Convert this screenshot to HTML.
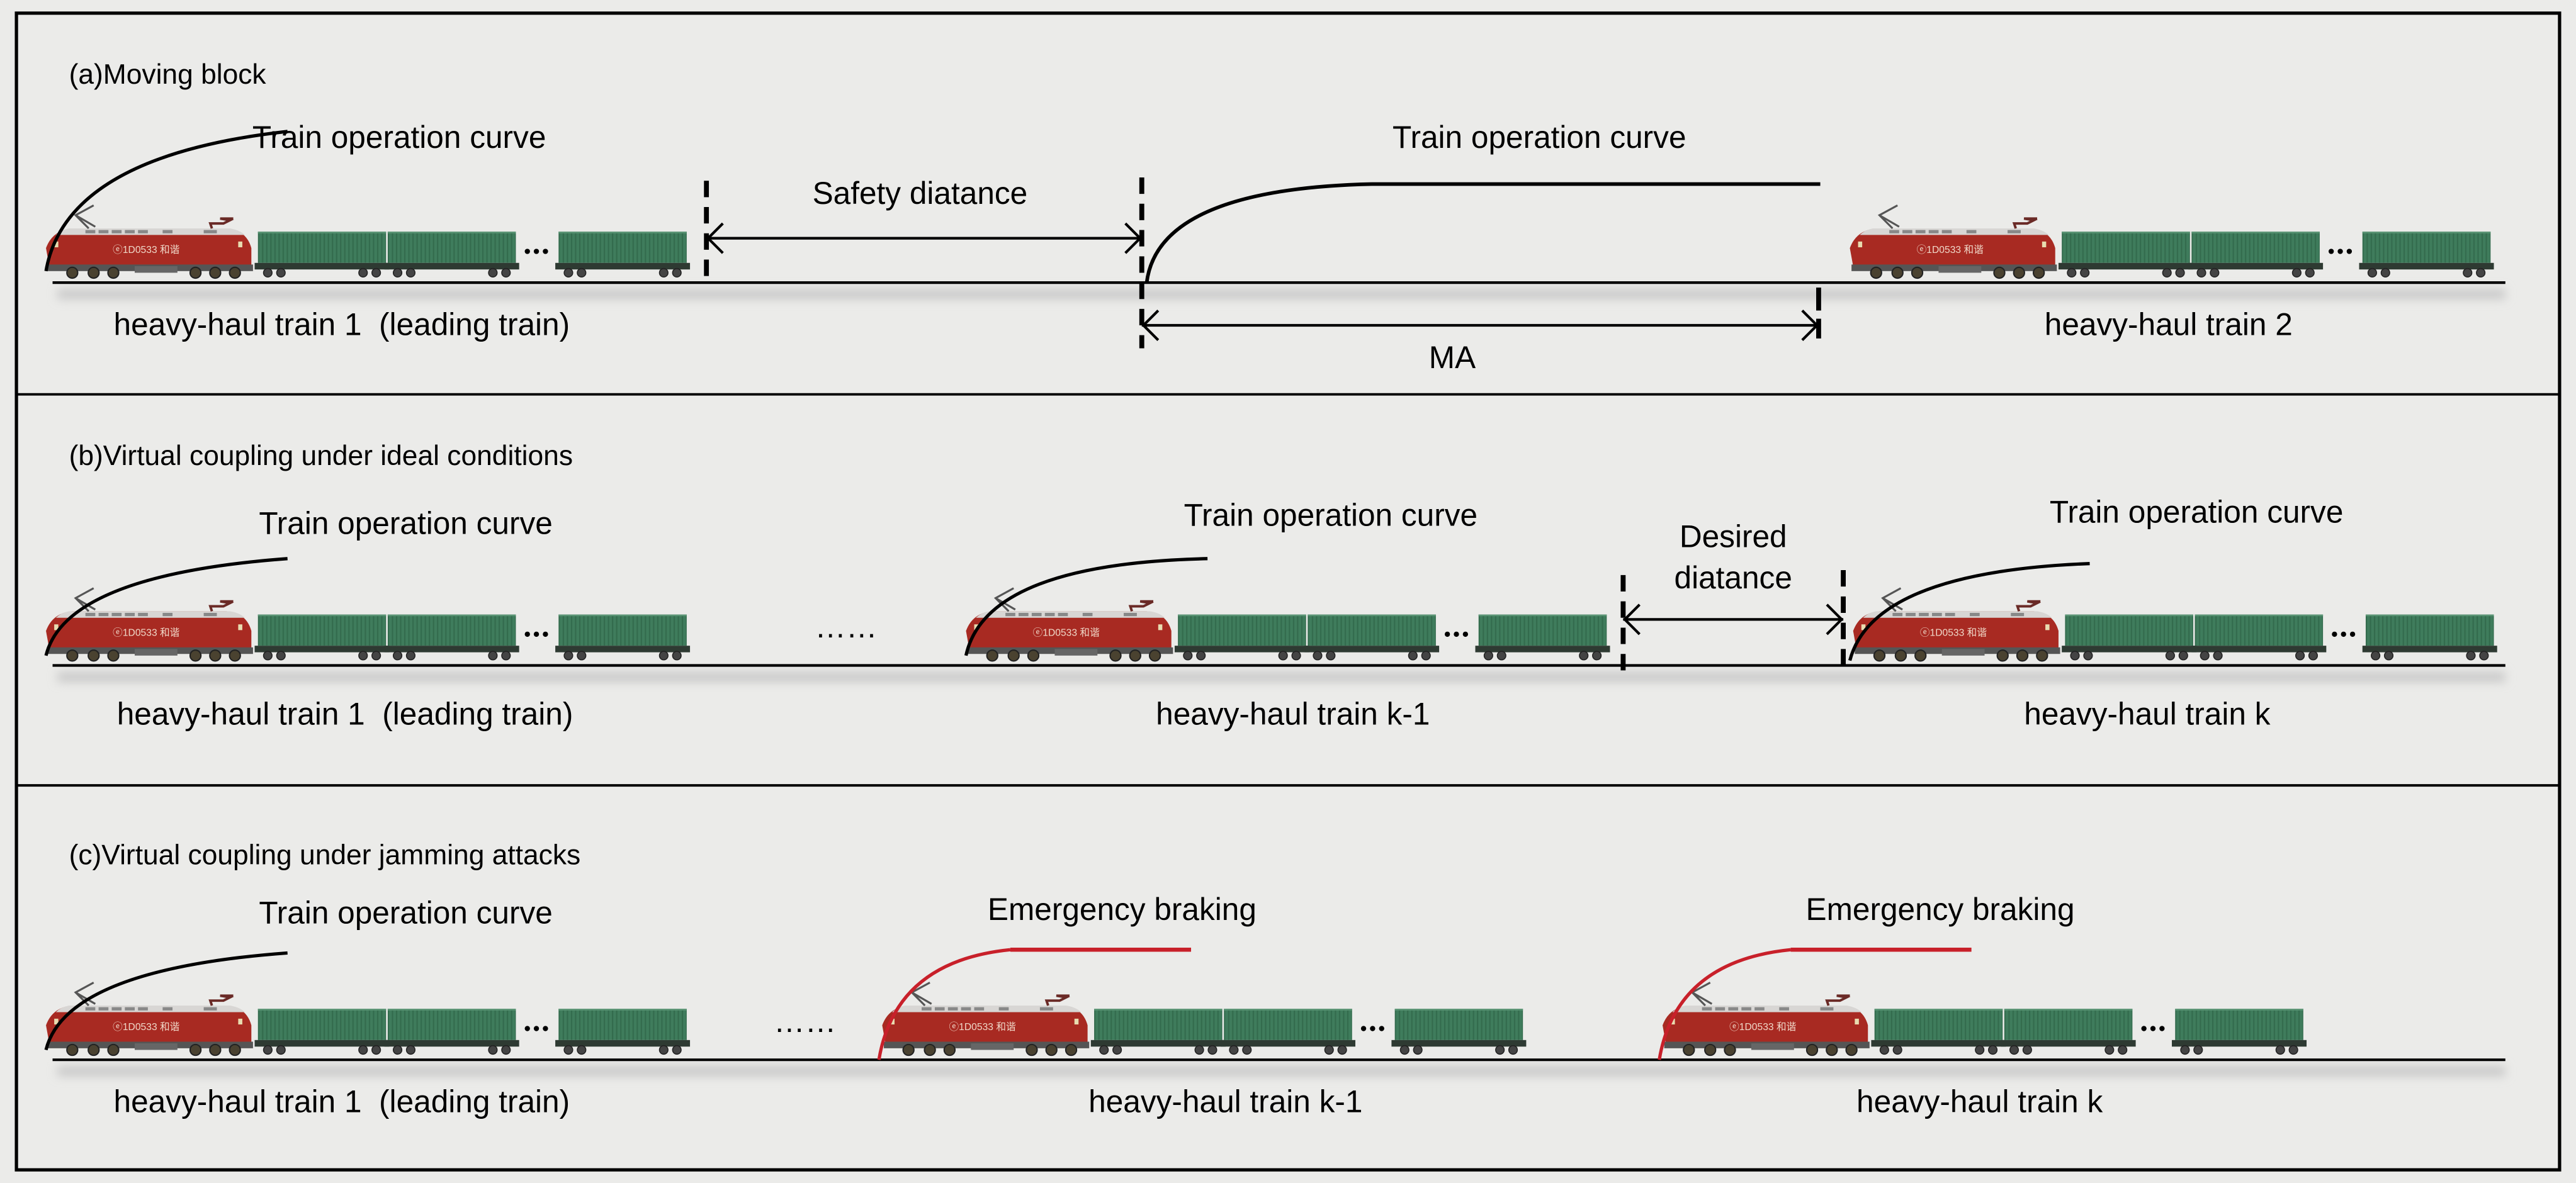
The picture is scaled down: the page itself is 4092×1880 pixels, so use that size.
<!DOCTYPE html>
<html><head><meta charset="utf-8"><style>
html,body{margin:0;padding:0;background:#ebebe9;}
svg{display:block;}
text{font-family:"Liberation Sans",Arial,sans-serif;fill:#000;}
</style></head><body>
<svg width="4092" height="1880" viewBox="0 0 1568 720" preserveAspectRatio="none" xmlns="http://www.w3.org/2000/svg">
<defs>
<pattern id="str" width="2.5" height="10" patternUnits="userSpaceOnUse">
<rect width="2.5" height="10" fill="#3f7c5c"/><rect width="0.8" height="10" fill="#336b4d"/>
</pattern>
<filter id="bl" x="-20%" y="-200%" width="140%" height="500%"><feGaussianBlur stdDeviation="3"/></filter>
<g id="loco">
<path d="M6,-7 L4,-18 Q8,-29 20,-30 L114,-30 Q126,-29 129,-18 L129,-7 Z" fill="#a82a22"/>
<path d="M18,-30 L116,-30 Q122,-29 125,-26 L10,-26 Q13,-29 18,-30Z" fill="#d8d6d4"/>
<rect x="28" y="-29" width="6" height="2" fill="#888"/><rect x="36" y="-29" width="6" height="2" fill="#888"/><rect x="44" y="-29" width="6" height="2" fill="#888"/><rect x="52" y="-29" width="6" height="2" fill="#888"/><rect x="60" y="-29" width="6" height="2" fill="#888"/><rect x="75" y="-29" width="6" height="2" fill="#888"/><rect x="100" y="-29" width="8" height="2" fill="#888"/>
<rect x="9" y="-22" width="2.5" height="3.5" fill="#e8dcb0"/><rect x="121" y="-22" width="2.5" height="3.5" fill="#e8dcb0"/>
<text x="65" y="-15" font-size="6" style="fill:#f0d8c8" text-anchor="middle">ⓔ1D0533 和谐</text>
<rect x="5" y="-8" width="125" height="4" fill="#555"/>
<path d="M30,-30 L22,-38 L33,-44 M22,-38 L34,-31" stroke="#555" stroke-width="1.2" fill="none"/>
<path d="M105,-30 L104,-33 L112,-33 L116,-35 L110,-36 L118,-36" stroke="#6a2a26" stroke-width="1.5" fill="none"/>
<g fill="#4a4230" stroke="#222" stroke-width="0.8">
<circle cx="20" cy="-3" r="3.3"/><circle cx="33" cy="-3" r="3.3"/><circle cx="45" cy="-3" r="3.3"/>
<circle cx="95" cy="-3" r="3.3"/><circle cx="107" cy="-3" r="3.3"/><circle cx="119" cy="-3" r="3.3"/>
</g>
<rect x="58" y="-7" width="26" height="4" fill="#666"/>
</g>
<g id="wag">
<rect x="0" y="-28" width="78" height="19" fill="url(#str)"/>
<rect x="0" y="-28" width="78" height="1" fill="#5a9474"/>
<rect x="-2" y="-9" width="82" height="4" fill="#2e3a32"/>
<g fill="#444" stroke="#222" stroke-width="0.6"><circle cx="6" cy="-3" r="2.6"/><circle cx="14" cy="-3" r="2.6"/><circle cx="64" cy="-3" r="2.6"/><circle cx="72" cy="-3" r="2.6"/></g>
</g>
<g id="dots"><circle cx="3" cy="-16" r="1.6"/><circle cx="8.5" cy="-16" r="1.6"/><circle cx="14" cy="-16" r="1.6"/></g>
<g id="train">
<use href="#loco"/><use href="#wag" x="133"/><use href="#wag" x="212"/><use href="#dots" x="294"/><use href="#wag" x="316"/>
</g>
</defs>
<rect x="0" y="0" width="1568" height="720" fill="#ebebe9"/>
<rect x="10" y="8" width="1548" height="704" fill="none" stroke="#000" stroke-width="2"/>
<line x1="10" y1="240" x2="1558" y2="240" stroke="#000" stroke-width="1.5"/>
<line x1="10" y1="478" x2="1558" y2="478" stroke="#000" stroke-width="1.5"/>

<g filter="url(#bl)" fill="#c8c8c8">
<rect x="35" y="176" width="1490" height="6"/><rect x="35" y="409" width="1490" height="6"/><rect x="35" y="649" width="1490" height="6"/>
</g>

<!-- (a) -->
<text x="42" y="51" font-size="17">(a)Moving block</text>
<text x="243" y="90" font-size="19" text-anchor="middle">Train operation curve</text>
<text x="937" y="90" font-size="19" text-anchor="middle">Train operation curve</text>
<text x="560" y="124" font-size="19" text-anchor="middle">Safety diatance</text>
<text x="884" y="224" font-size="19" text-anchor="middle">MA</text>
<text x="208" y="204" font-size="19" text-anchor="middle">heavy-haul train 1 &#160;(leading train)</text>
<text x="1320" y="204" font-size="19" text-anchor="middle">heavy-haul train 2</text>
<line x1="32" y1="172" x2="1525" y2="172" stroke="#000" stroke-width="1.6"/>
<use href="#train" x="24" y="169"/>
<use href="#train" x="1122" y="169"/>
<path d="M28,165 Q40,95 175,80" stroke="#000" stroke-width="2" fill="none"/>
<line x1="430" y1="110" x2="430" y2="172" stroke="#000" stroke-width="3" stroke-dasharray="10,6"/>
<line x1="695" y1="108" x2="695" y2="212" stroke="#000" stroke-width="3" stroke-dasharray="10,6"/>
<line x1="1107" y1="175" x2="1107" y2="206" stroke="#000" stroke-width="3" stroke-dasharray="14,5"/>
<line x1="430" y1="145" x2="695" y2="145" stroke="#000" stroke-width="1.6"/>
<path d="M440,136 L431,145 L440,154 M685,136 L694,145 L685,154" stroke="#000" stroke-width="1.6" fill="none"/>
<line x1="695" y1="198" x2="1107" y2="198" stroke="#000" stroke-width="1.6"/>
<path d="M705,189 L696,198 L705,207 M1097,189 L1106,198 L1097,207" stroke="#000" stroke-width="1.6" fill="none"/>
<path d="M698,172 Q705,115 835,112 L1108,112" stroke="#000" stroke-width="2.2" fill="none"/>

<!-- (b) -->
<text x="42" y="283" font-size="17">(b)Virtual coupling under ideal conditions</text>
<text x="247" y="325" font-size="19" text-anchor="middle">Train operation curve</text>
<text x="810" y="320" font-size="19" text-anchor="middle">Train operation curve</text>
<text x="1337" y="318" font-size="19" text-anchor="middle">Train operation curve</text>
<text x="1055" y="333" font-size="19" text-anchor="middle">Desired</text>
<text x="1055" y="358" font-size="19" text-anchor="middle">diatance</text>
<text x="515" y="388" font-size="19" text-anchor="middle">……</text>
<text x="210" y="441" font-size="19" text-anchor="middle">heavy-haul train 1 &#160;(leading train)</text>
<text x="787" y="441" font-size="19" text-anchor="middle">heavy-haul train k-1</text>
<text x="1307" y="441" font-size="19" text-anchor="middle">heavy-haul train k</text>
<line x1="32" y1="405" x2="1525" y2="405" stroke="#000" stroke-width="1.6"/>
<use href="#train" x="24" y="402"/>
<use href="#train" x="584" y="402"/>
<use href="#train" x="1124" y="402"/>
<path d="M28,399 Q40,350 175,340" stroke="#000" stroke-width="2" fill="none"/>
<path d="M588,399 Q600,343 735,340" stroke="#000" stroke-width="2" fill="none"/>
<path d="M1126,402 Q1140,348 1272,343" stroke="#000" stroke-width="2" fill="none"/>
<line x1="988" y1="350" x2="988" y2="408" stroke="#000" stroke-width="3" stroke-dasharray="10,6"/>
<line x1="1122" y1="347" x2="1122" y2="408" stroke="#000" stroke-width="3" stroke-dasharray="10,6"/>
<line x1="988" y1="377" x2="1122" y2="377" stroke="#000" stroke-width="1.6"/>
<path d="M998,368 L989,377 L998,386 M1112,368 L1121,377 L1112,386" stroke="#000" stroke-width="1.6" fill="none"/>

<!-- (c) -->
<text x="42" y="526" font-size="17">(c)Virtual coupling under jamming attacks</text>
<text x="247" y="562" font-size="19" text-anchor="middle">Train operation curve</text>
<text x="683" y="560" font-size="19" text-anchor="middle">Emergency braking</text>
<text x="1181" y="560" font-size="19" text-anchor="middle">Emergency braking</text>
<text x="490" y="628" font-size="19" text-anchor="middle">……</text>
<text x="208" y="677" font-size="19" text-anchor="middle">heavy-haul train 1 &#160;(leading train)</text>
<text x="746" y="677" font-size="19" text-anchor="middle">heavy-haul train k-1</text>
<text x="1205" y="677" font-size="19" text-anchor="middle">heavy-haul train k</text>
<line x1="32" y1="645" x2="1525" y2="645" stroke="#000" stroke-width="1.6"/>
<use href="#train" x="24" y="642"/>
<use href="#train" x="533" y="642"/>
<use href="#train" x="1008" y="642"/>
<path d="M28,639 Q40,590 175,580" stroke="#000" stroke-width="2" fill="none"/>
<path d="M535,645 Q545,585 615,578" stroke="#c8202a" stroke-width="2" fill="none"/>
<line x1="615" y1="578" x2="725" y2="578" stroke="#c8202a" stroke-width="2.5"/>
<path d="M1010,645 Q1020,585 1090,578" stroke="#c8202a" stroke-width="2" fill="none"/>
<line x1="1090" y1="578" x2="1200" y2="578" stroke="#c8202a" stroke-width="2.5"/>
</svg>
</body></html>
